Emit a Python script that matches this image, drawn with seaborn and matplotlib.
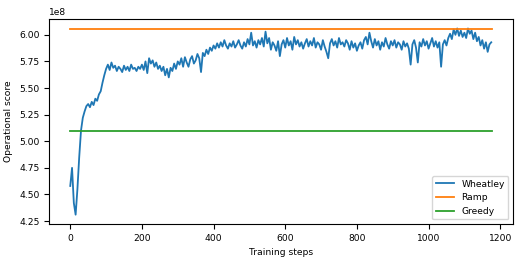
import numpy as np
import pandas as pd
import matplotlib
matplotlib.use("Agg")
import matplotlib.pyplot as plt
import seaborn as sns

# Wheatley operational score (x1e8), one reading every 5 training steps
wheatley = [
    4.58, 4.75, 4.42, 4.31, 4.55, 4.85, 5.10, 5.22, 5.28, 5.33,
    5.35, 5.32, 5.37, 5.34, 5.40, 5.38, 5.44, 5.47, 5.55, 5.62,
    5.68, 5.72, 5.67, 5.74, 5.69, 5.71, 5.66, 5.70, 5.68, 5.65,
    5.71, 5.67, 5.70, 5.66, 5.72, 5.68, 5.69, 5.66, 5.70, 5.68,
    5.72, 5.67, 5.75, 5.64, 5.78, 5.73, 5.76, 5.70, 5.74, 5.68,
    5.71, 5.66, 5.70, 5.62, 5.68, 5.60, 5.69, 5.66, 5.73, 5.68,
    5.75, 5.72, 5.78, 5.70, 5.79, 5.74, 5.70, 5.77, 5.80, 5.73,
    5.76, 5.82, 5.78, 5.65, 5.83, 5.80, 5.86, 5.82, 5.88, 5.85,
    5.90, 5.87, 5.92, 5.88, 5.93, 5.89, 5.95, 5.90, 5.87, 5.92,
    5.89, 5.94, 5.88, 5.91, 5.95, 5.90, 5.87, 5.93, 5.89, 5.96,
    5.91, 6.02, 5.90, 5.94, 5.88, 5.95, 5.91, 5.97, 5.89, 6.03,
    5.92, 5.97, 5.86, 5.93, 5.90, 5.85, 5.94, 5.80, 5.91, 5.95,
    5.88, 5.97, 5.90, 5.94, 5.86, 5.98, 5.91, 5.95, 5.89, 5.93,
    5.87, 5.92, 5.96, 5.89, 5.94, 5.90, 5.97, 5.88, 5.93, 5.91,
    5.86, 5.95, 5.89, 5.84, 5.78, 5.92, 5.96, 5.90, 5.94, 5.88,
    5.97, 5.91, 5.93, 5.89, 5.95, 5.92, 5.86, 5.94, 5.88, 5.92,
    5.85, 5.90, 5.93, 5.87, 5.95, 5.98, 5.91, 6.02, 5.94, 5.88,
    5.96, 5.90, 5.94, 5.86, 5.93, 5.89, 5.97, 5.91, 5.87, 5.94,
    5.90, 5.95, 5.88, 5.93, 5.91, 5.86, 5.94, 5.89, 5.92, 5.87,
    5.72, 5.91, 5.95, 5.88, 5.74, 5.93, 5.89, 5.96, 5.90, 5.94,
    5.87, 5.92, 5.97, 5.89, 5.94, 5.88, 5.93, 5.70, 5.91, 5.95,
    5.90, 5.97, 6.01, 5.96, 6.05, 6.00, 6.06, 5.99, 6.04, 5.98,
    6.02, 5.97, 6.06, 6.01, 6.04, 5.96, 6.02, 5.94, 5.98, 5.90,
    5.95, 5.87, 5.93, 5.84, 5.91, 5.93,
]
step_every = 5
last_step = 1177

ramp_score = 6.055
greedy_score = 5.10

series_names = ["Wheatley", "Ramp", "Greedy"]
colors = ["#1f77b4", "#ff7f0e", "#2ca02c"]

# tabla larga para seaborn
steps = np.arange(len(wheatley)) * step_every
df = pd.concat([
    pd.DataFrame({"step": steps, "score": np.array(wheatley) * 1e8, "policy": "Wheatley"}),
    pd.DataFrame({"step": [0, last_step], "score": [ramp_score * 1e8] * 2, "policy": "Ramp"}),
    pd.DataFrame({"step": [0, last_step], "score": [greedy_score * 1e8] * 2, "policy": "Greedy"}),
])

plt.rcParams["font.size"] = 6.6
fig, ax = plt.subplots(figsize=(5.23, 2.62), dpi=100)
fig.subplots_adjust(left=0.094, right=0.981, bottom=0.145, top=0.927)

sns.lineplot(data=df, x="step", y="score", hue="policy", hue_order=series_names,
             palette=colors, linewidth=1.3, ax=ax, estimator=None)

ax.set_xlabel("Training steps")
ax.set_ylabel("Operational score")
ax.set_xticks([0, 200, 400, 600, 800, 1000, 1200])
ax.set_yticks([4.25e8, 4.5e8, 4.75e8, 5.0e8, 5.25e8, 5.5e8, 5.75e8, 6.0e8])
ax.legend(loc="lower right", title=None)

fig.savefig("out.png", dpi=100)
